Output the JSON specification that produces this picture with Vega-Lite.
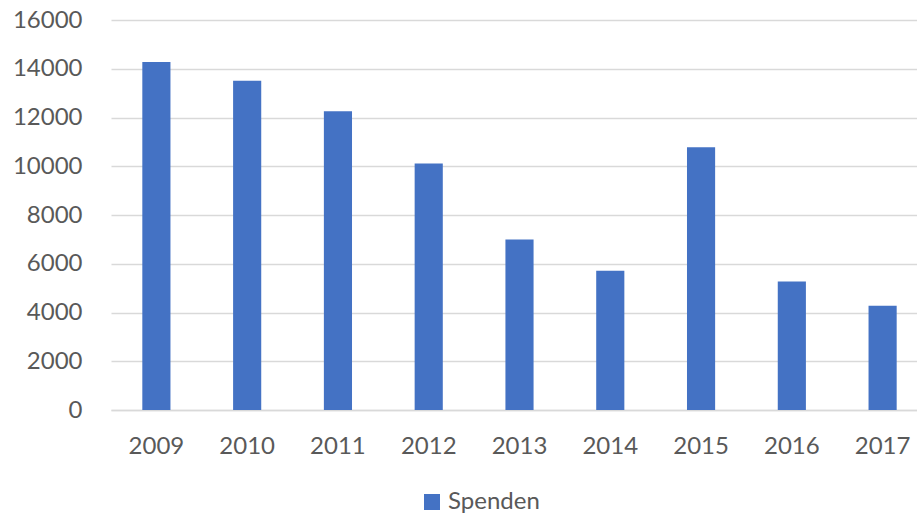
{
  "$schema": "https://vega.github.io/schema/vega-lite/v6.json",
  "autosize": "none",
  "padding": {"left": 111, "top": 20, "right": 0, "bottom": 105},
  "width": 817,
  "height": 390,
  "background": "white",
  "data": {"values": [
    {"year": "2009", "value": 14280, "series": "Spenden"},
    {"year": "2010", "value": 13510, "series": "Spenden"},
    {"year": "2011", "value": 12260, "series": "Spenden"},
    {"year": "2012", "value": 10110, "series": "Spenden"},
    {"year": "2013", "value": 6990, "series": "Spenden"},
    {"year": "2014", "value": 5710, "series": "Spenden"},
    {"year": "2015", "value": 10780, "series": "Spenden"},
    {"year": "2016", "value": 5270, "series": "Spenden"},
    {"year": "2017", "value": 4280, "series": "Spenden"}
  ]},
  "mark": {"type": "bar"},
  "encoding": {
    "x": {
      "field": "year", "type": "ordinal", "title": null,
      "scale": {"paddingInner": 0.69, "paddingOuter": 0.345},
      "axis": {"labelAngle": 0, "ticks": false, "domain": true, "domainColor": "#D9D9D9", "domainWidth": 1.5,
               "labelFont": "Lato", "labelFontSize": 24, "labelColor": "#595959", "labelPadding": 24}
    },
    "y": {
      "field": "value", "type": "quantitative", "title": null,
      "scale": {"domain": [0, 16000], "nice": false},
      "axis": {"values": [0, 2000, 4000, 6000, 8000, 10000, 12000, 14000, 16000], "format": "d",
               "domain": false, "ticks": false, "grid": true, "gridColor": "#D9D9D9", "gridWidth": 1.5,
               "labelFont": "Lato", "labelFontSize": 24, "labelColor": "#595959", "labelPadding": 29}
    },
    "color": {
      "field": "series", "type": "nominal", "title": null,
      "scale": {"range": ["#4472C4"]},
      "legend": {"orient": "none", "legendX": 309, "legendY": 470, "symbolType": "square", "symbolSize": 256,
                 "symbolStrokeWidth": 0, "labelFont": "Lato", "labelFontSize": 24, "labelColor": "#595959", "labelOffset": 4}
    }
  },
  "config": {"view": {"stroke": null}}
}
